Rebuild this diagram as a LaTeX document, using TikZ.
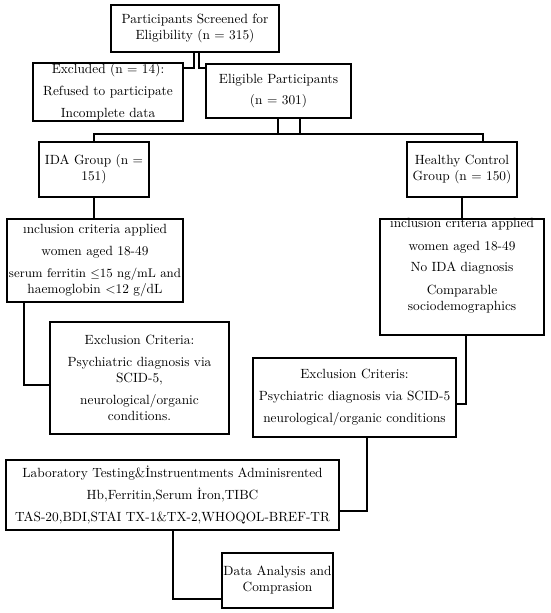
\documentclass[tikz,border=0pt]{standalone}
\begin{document}
\begin{tikzpicture}[x=0.75pt,y=-0.75pt,
  box/.style={draw, line width=1.2pt, align=center, inner sep=0pt, font=\fontsize{10}{12}\selectfont},
  txt/.style={align=center, inner sep=0pt, font=\fontsize{10}{12}\selectfont},
  conn/.style={line width=1.2pt}]
\useasboundingbox (0,0) rectangle (550,613);
\fill[white] (0,0) rectangle (550,613);

\node[box, minimum width=168*0.75pt, minimum height=47*0.75pt] (scr) at (195,28.5)
  {Participants Screened for\\Eligibility (n = 315)};
\node[box, minimum width=150*0.75pt, minimum height=58*0.75pt] (exc) at (108,92)
  {Excluded (n = 14):\\[4.5pt]Refused to participate\\[4.5pt]Incomplete data};
\node[box, minimum width=145*0.75pt, minimum height=54*0.75pt] (elig) at (278.5,91)
  {Eligible Participants\\[4pt](n = 301)};
\node[box, minimum width=110*0.75pt, minimum height=55*0.75pt] (ida) at (94,169.5)
  {IDA Group (n =\\151)};
\node[box, minimum width=110*0.75pt, minimum height=55*0.75pt] (hc) at (462,169.5)
  {Healthy Control\\Group (n = 150)};
\node[box, minimum width=176*0.75pt, minimum height=83*0.75pt] (incIDA) at (95,260.5)
  {ınclusion criteria applied\\[4.5pt]women aged 18-49\\[4pt]{\fontsize{9.4}{12}\selectfont serum ferritin $\leq$15 ng/mL and}\\haemoglobin $<$12 g/dL};
\node[box, minimum width=164*0.75pt, minimum height=116*0.75pt] (incHC) at (462,277) {};
\node[txt] (incHCt) at (462,266)
  {ınclusion criteria applied\\[5pt]women aged 18-49\\[4pt]No IDA diagnosis\\[5pt]Comparable\\sociodemographics};
\node[box, minimum width=179*0.75pt, minimum height=112*0.75pt] (excIDA) at (139.5,378)
  {Exclusion Criteria:\\[4pt]Psychiatric diagnosis via\\SCID-5,\\[4.5pt]neurological/organic\\conditions.};
\node[box, minimum width=203*0.75pt, minimum height=79*0.75pt] (excHC) at (354.5,397.5)
  {Exclusion Criteris:\\[4.5pt]Psychiatric diagnosis via SCID-5\\[4.5pt]neurological/organic conditions};
\node[box, minimum width=333*0.75pt, minimum height=70*0.75pt] (lab) at (172.5,495)
  {Laboratory Testing\&İnstruentments Adminisrented\\[4.5pt]Hb,Ferritin,Serum İron,TIBC\\[4.5pt]TAS-20,BDI,STAI TX-1\&TX-2,WHOQOL-BREF-TR};
\node[box, minimum width=111*0.75pt, minimum height=55*0.75pt] (data) at (277.5,580.5)
  {Data Analysis and\\Comprasion};

\coordinate (s1) at (194,68);
\coordinate (s2) at (199,68);
\draw[conn] (scr.south -| s1) -- (s1) -- (exc.east |- s1);
\draw[conn] (scr.south -| s2) -- (s2) -- (elig.west |- s2);

\coordinate (e1) at (278,134);
\coordinate (e2) at (300,134);
\coordinate (hL) at (94,134);
\coordinate (hR) at (483,134);
\draw[conn] (elig.south -| e1) -- (e1);
\draw[conn] (elig.south -| e2) -- (e2);
\draw[conn] (ida.north) -- (hL) -- (hR) -- (hc.north -| hR);

\draw[conn] (ida.south) -- (incIDA.north -| ida.south);
\draw[conn] (hc.south) -- (incHC.north);

\coordinate (k1) at (24,385);
\draw[conn] (incIDA.south -| k1) -- (k1) -- (excIDA.west |- k1);
\coordinate (k2) at (466,404);
\draw[conn] (incHC.south -| k2) -- (k2) -- (excHC.east |- k2);
\coordinate (k3) at (367,511);
\draw[conn] (excHC.south -| k3) -- (k3) -- (lab.east |- k3);
\coordinate (k4) at (173,599);
\draw[conn] (lab.south -| k4) -- (k4) -- (data.west |- k4);
\end{tikzpicture}
\end{document}
